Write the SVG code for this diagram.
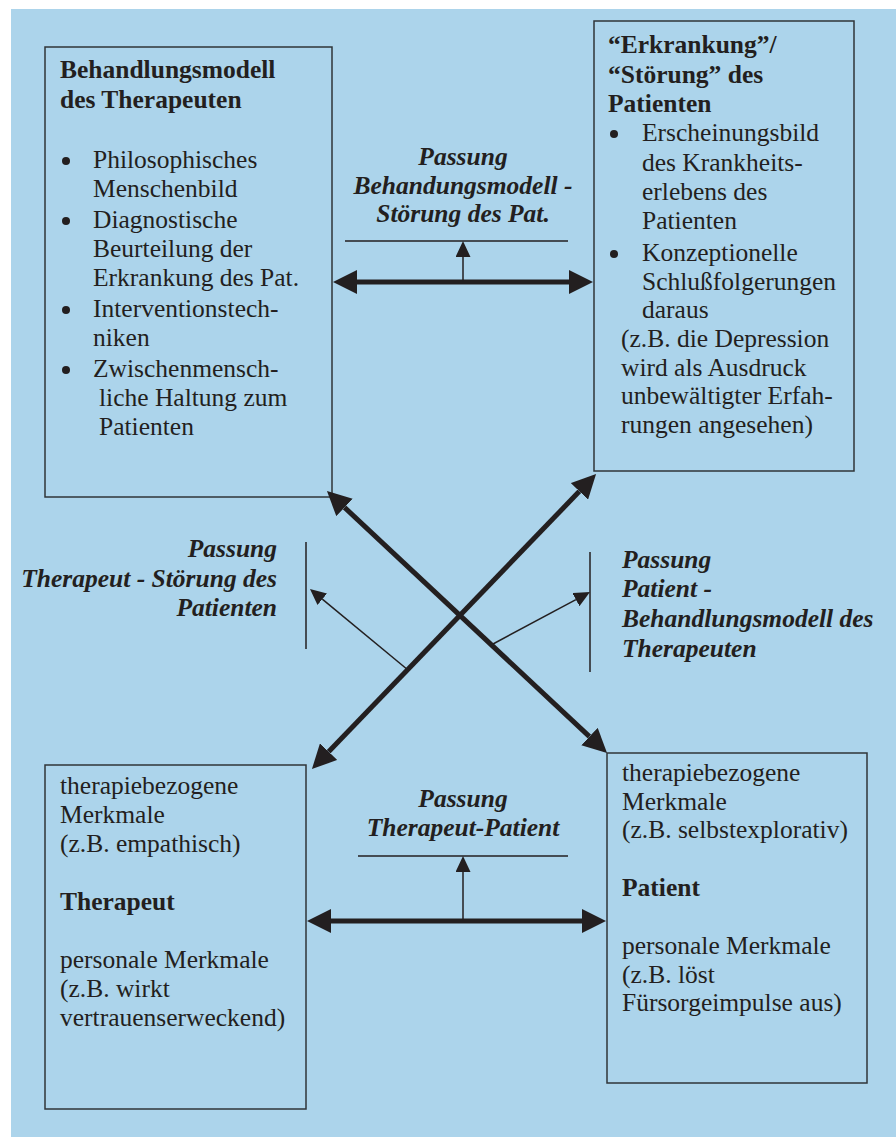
<svg xmlns="http://www.w3.org/2000/svg" width="896" height="1137" viewBox="0 0 896 1137">
<style>
.box{fill:none;stroke:#2f3438;stroke-width:1.5}
text{font-family:"Liberation Serif","Times New Roman",serif;font-size:25.5px;fill:#231f20}
.b{font-weight:bold}
.bi{font-weight:bold;font-style:italic}
.thick{stroke:#231f20;stroke-width:5;fill:none}
.thin{stroke:#231f20;stroke-width:1.5;fill:none}
.bul{fill:#231f20}
</style>
<defs>
<marker id="bigHead" viewBox="0 0 24 24" refX="0" refY="12" markerWidth="24" markerHeight="24" markerUnits="userSpaceOnUse" orient="auto-start-reverse">
<path d="M0,0 L24,12 L0,24 z" fill="#231f20"/>
</marker>
<marker id="smallHead" viewBox="0 0 16 15" refX="0" refY="7.5" markerWidth="16" markerHeight="15" markerUnits="userSpaceOnUse" orient="auto">
<path d="M0,0 L16,7.5 L0,15 z" fill="#231f20"/>
</marker>
</defs>
<rect x="11" y="9" width="885" height="1128" fill="#acd4eb"/>

<g id="behandlungsmodell">
<rect class="box" x="45" y="47" width="287" height="450"/>
<text class="b" x="60" y="78">Behandlungsmodell</text>
<text class="b" x="60" y="108">des Therapeuten</text>
<circle class="bul" cx="66" cy="161" r="4"/>
<text x="93" y="168">Philosophisches</text>
<text x="93" y="197">Menschenbild</text>
<circle class="bul" cx="66" cy="221" r="4"/>
<text x="93" y="228">Diagnostische</text>
<text x="93" y="257">Beurteilung der</text>
<text x="93" y="286">Erkrankung des Pat.</text>
<circle class="bul" cx="66" cy="310" r="4"/>
<text x="93" y="317">Interventionstech-</text>
<text x="93" y="346">niken</text>
<circle class="bul" cx="66" cy="370" r="4"/>
<text x="93" y="377">Zwischenmensch-</text>
<text x="99" y="406">liche Haltung zum</text>
<text x="99" y="435">Patienten</text>
</g>

<g id="stoerung">
<rect class="box" x="594" y="21" width="260" height="450"/>
<text class="b" x="608" y="53">“Erkrankung”/</text>
<text class="b" x="608" y="83">“Störung” des</text>
<text class="b" x="608" y="112">Patienten</text>
<circle class="bul" cx="614" cy="134" r="4"/>
<text x="642" y="141">Erscheinungsbild</text>
<text x="642" y="171">des Krankheits-</text>
<text x="642" y="200">erlebens des</text>
<text x="642" y="229">Patienten</text>
<circle class="bul" cx="614" cy="254" r="4"/>
<text x="642" y="261">Konzeptionelle</text>
<text x="642" y="290">Schlußfolgerungen</text>
<text x="642" y="318">daraus</text>
<text x="621" y="347">(z.B. die Depression</text>
<text x="621" y="376">wird als Ausdruck</text>
<text x="621" y="404">unbewältigter Erfah-</text>
<text x="621" y="433">rungen angesehen)</text>
</g>

<g id="therapeut">
<rect class="box" x="45" y="765" width="261" height="344"/>
<text x="60" y="794">therapiebezogene</text>
<text x="60" y="823">Merkmale</text>
<text x="60" y="852">(z.B. empathisch)</text>
<text class="b" x="60" y="910">Therapeut</text>
<text x="60" y="968">personale Merkmale</text>
<text x="60" y="997">(z.B. wirkt</text>
<text x="60" y="1026">vertrauenserweckend)</text>
</g>

<g id="patient">
<rect class="box" x="607" y="753" width="260" height="330"/>
<text x="622" y="781">therapiebezogene</text>
<text x="622" y="810">Merkmale</text>
<text x="622" y="838">(z.B. selbstexplorativ)</text>
<text class="b" x="622" y="896">Patient</text>
<text x="622" y="954">personale Merkmale</text>
<text x="622" y="983">(z.B. löst</text>
<text x="622" y="1011">Fürsorgeimpulse aus)</text>
</g>

<g id="label-top">
<text class="bi" x="463" y="165" text-anchor="middle">Passung</text>
<text class="bi" x="463" y="194" text-anchor="middle">Behandungsmodell -</text>
<text class="bi" x="463" y="222" text-anchor="middle">Störung des Pat.</text>
</g>
<g id="label-left">
<text class="bi" x="277" y="557" text-anchor="end">Passung</text>
<text class="bi" x="277" y="587" text-anchor="end">Therapeut - Störung des</text>
<text class="bi" x="277" y="616" text-anchor="end">Patienten</text>
</g>
<g id="label-right">
<text class="bi" x="622" y="568">Passung</text>
<text class="bi" x="622" y="597">Patient -</text>
<text class="bi" x="622" y="627">Behandlungsmodell des</text>
<text class="bi" x="622" y="657">Therapeuten</text>
</g>
<g id="label-bottom">
<text class="bi" x="463" y="807" text-anchor="middle">Passung</text>
<text class="bi" x="463" y="836" text-anchor="middle">Therapeut-Patient</text>
</g>

<g id="connectors">
<line class="thick" x1="357" y1="282" x2="569" y2="282" marker-start="url(#bigHead)" marker-end="url(#bigHead)"/>
<line class="thin" x1="345" y1="241" x2="568" y2="241"/>
<line class="thin" x1="463" y1="282" x2="463" y2="257" marker-end="url(#smallHead)"/>

<line class="thick" x1="331" y1="921" x2="582" y2="921" marker-start="url(#bigHead)" marker-end="url(#bigHead)"/>
<line class="thin" x1="358" y1="856" x2="568" y2="856"/>
<line class="thin" x1="463" y1="921" x2="463" y2="872" marker-end="url(#smallHead)"/>

<line class="thick" x1="344.5" y1="507.4" x2="589.5" y2="736.6" marker-start="url(#bigHead)" marker-end="url(#bigHead)"/>
<line class="thick" x1="579.4" y1="491.3" x2="328.6" y2="751.7" marker-start="url(#bigHead)" marker-end="url(#bigHead)"/>

<line class="thin" x1="306" y1="542" x2="306" y2="649"/>
<line class="thin" x1="408" y1="670" x2="322.3" y2="599.2" marker-end="url(#smallHead)"/>
<line class="thin" x1="590" y1="552" x2="590" y2="672"/>
<line class="thin" x1="493" y1="644" x2="575.9" y2="599.6" marker-end="url(#smallHead)"/>
</g>
</svg>
